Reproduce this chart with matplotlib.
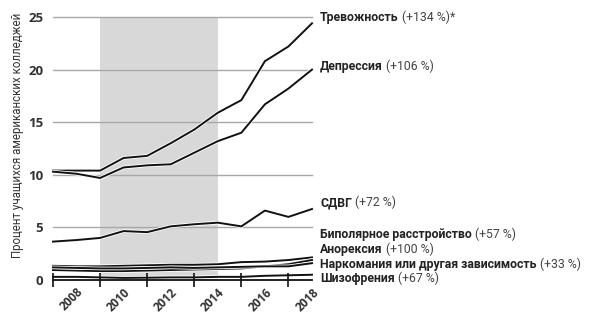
import matplotlib
matplotlib.use("Agg")
import matplotlib.pyplot as plt
import matplotlib.patheffects as pe

plt.rcParams['font.family'] = ['Open Sans', 'DejaVu Sans']
label_font = ['Roboto', 'DejaVu Sans']

years = list(range(2007, 2019))
anxiety = [10.4, 10.4, 10.4, 11.6, 11.8, 13.0, 14.3, 15.9, 17.1, 20.8, 22.2, 24.4]
depression = [10.3, 10.1, 9.7, 10.7, 10.9, 11.0, 12.1, 13.2, 14.0, 16.7, 18.2, 20.0]
adhd = [3.65, 3.8, 4.0, 4.65, 4.55, 5.1, 5.3, 5.45, 5.1, 6.6, 6.0, 6.75]
bipolar = [1.35, 1.3, 1.3, 1.35, 1.4, 1.45, 1.45, 1.5, 1.7, 1.75, 1.9, 2.15]
anorexia = [0.95, 0.9, 0.85, 0.85, 0.9, 0.95, 1.0, 1.05, 1.1, 1.3, 1.5, 1.9]
substance = [1.2, 1.15, 1.1, 1.1, 1.15, 1.2, 1.15, 1.2, 1.25, 1.3, 1.3, 1.6]
schizo = [0.3, 0.3, 0.25, 0.2, 0.22, 0.25, 0.25, 0.3, 0.3, 0.4, 0.45, 0.5]

series = [anxiety, depression, adhd, bipolar, anorexia, substance, schizo]
names = ['Тревожность', 'Депрессия', 'СДВГ', 'Биполярное расстройство',
         'Анорексия', 'Наркомания или другая зависимость', 'Шизофрения']
changes = ['(+134 %)*', '(+106 %)', '(+72 %)', '(+57 %)', '(+100 %)', '(+33 %)', '(+67 %)']
label_y = [24.6, 20.0, 7.0, 4.0, 2.55, 1.15, -0.2]

shade_start, shade_end = 2009, 2014

fig = plt.figure(figsize=(6, 3.27), dpi=100)
ax = fig.add_axes([0.0883, 0.1437, 0.4317, 0.8043])

# recession band and horizontal guides
ax.axvspan(shade_start, shade_end, ymin=0, ymax=1, color='#d8d8d8', lw=0, zorder=0)
for gy in [5, 10, 15, 20, 25]:
    ax.axhline(gy, color='#a8a8a8', lw=1, zorder=1, clip_on=False)

for vals in series:
    ax.plot(years, vals, color='#111111', lw=1.4, clip_on=False, zorder=2,
            path_effects=[pe.Stroke(linewidth=2.6, foreground='white'), pe.Normal()])

ax.set_xlim(2007, 2018)
ax.set_ylim(0, 25)
ax.set_axisbelow(False)
ax.set_yticks([0, 5, 10, 15, 20, 25])
ax.tick_params(axis='y', length=0, pad=7, labelsize=9.5, labelcolor='#333333')
for lab in ax.get_yticklabels():
    lab.set_fontweight('bold')

# ticks on odd years, labels on even years
ax.set_xticks(range(2007, 2018, 2))
ax.set_xticks(range(2008, 2019, 2), minor=True)
ax.tick_params(axis='x', which='major', direction='inout', length=10, width=1.2,
               color='#111111', labelbottom=False)
ax.tick_params(axis='x', which='minor', length=0, pad=4)
ax.set_xticklabels([str(y) for y in range(2008, 2019, 2)], minor=True,
                   rotation=45, ha='right', rotation_mode='anchor',
                   fontsize=8.5, fontweight='bold', color='#333333')

for side in ['left', 'right', 'top']:
    ax.spines[side].set_visible(False)
ax.spines['bottom'].set_linewidth(1.3)
ax.spines['bottom'].set_color('#111111')

ax.set_ylabel('Процент учащихся американских колледжей', fontsize=8.3,
              family=label_font, color='#333333')
ax.yaxis.set_label_coords(-0.112, 0.55)

for name, chg, y in zip(names, changes, label_y):
    t = ax.text(2018.35, y, name, fontsize=8.8, fontweight='bold', color='#222222',
                family=label_font, va='baseline', ha='left', clip_on=False)
    ax.annotate(' ' + chg, xy=(1, y), xycoords=(t, 'data'), fontsize=8.8,
                family=label_font, color='#444444', va='baseline', ha='left',
                annotation_clip=False)

fig.savefig('out.png', dpi=100)
